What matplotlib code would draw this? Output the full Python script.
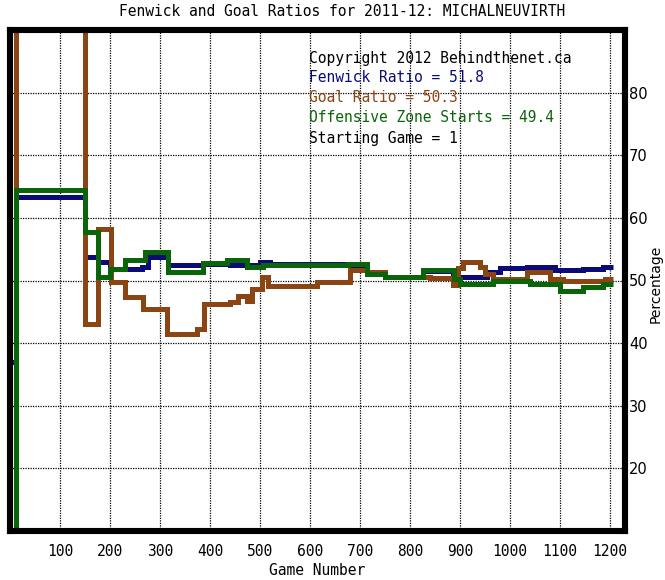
import matplotlib
matplotlib.use("Agg")
import matplotlib.pyplot as plt

# ---- data (game number, value) step points ----
fen_games = [0, 12, 150, 176, 200, 264, 276, 316, 386, 440, 456, 500, 520, 680, 713, 750, 826, 886, 900, 954, 980, 1034, 1090, 1146, 1186, 1206]
fen_vals  = [37, 63.4, 53.7, 52.9, 51.8, 52.2, 53.8, 52.4, 52.6, 52.5, 52.4, 52.9, 52.6, 52.3, 51.0, 50.6, 51.5, 50.3, 50.6, 51.4, 52.0, 52.1, 51.6, 51.9, 52.2, 52.2]

goal_games = [0, 12, 150, 176, 201, 230, 266, 313, 373, 388, 440, 456, 473, 483, 503, 516, 613, 680, 713, 750, 840, 885, 895, 906, 940, 950, 966, 1034, 1080, 1106, 1190, 1206]
goal_vals  = [0, 100, 43.0, 58.3, 49.8, 47.3, 45.5, 41.4, 42.3, 46.2, 46.5, 47.5, 46.7, 48.7, 50.6, 49.1, 49.8, 51.7, 51.4, 50.6, 50.4, 49.3, 52.0, 53.0, 52.2, 51.0, 50.3, 51.4, 50.3, 50.0, 50.2, 50.2]

ozs_games = [0, 12, 150, 176, 200, 230, 270, 316, 386, 434, 474, 506, 676, 713, 750, 826, 888, 900, 966, 1040, 1100, 1146, 1186, 1206]
ozs_vals  = [0, 64.5, 57.8, 50.5, 51.9, 53.3, 54.5, 51.4, 52.8, 53.2, 52.2, 52.5, 52.7, 51.1, 50.6, 51.6, 50.3, 49.5, 50.0, 49.4, 48.4, 49.0, 49.5, 49.5]

x_ticks = [100, 200, 300, 400, 500, 600, 700, 800, 900, 1000, 1100, 1200]
y_ticks = [20, 30, 40, 50, 60, 70, 80]

title = "Fenwick and Goal Ratios for 2011-12: MICHALNEUVIRTH"
info_lines = [
    ("Copyright 2012 Behindthenet.ca", "black"),
    ("Fenwick Ratio = 51.8", "#0b0b78"),
    ("Goal Ratio = 50.3", "#8b4513"),
    ("Offensive Zone Starts = 49.4", "#0a640a"),
    ("Starting Game = 1", "black"),
]

FONT = "DejaVu Sans Mono"
FS = 10.5

fig = plt.figure(figsize=(6.65, 5.8), dpi=100)
ax = fig.add_axes([10 / 665, 49 / 580, 615 / 665, 501 / 580])
ax.set_xlim(0, 1230)
ax.set_ylim(10, 90)

lw = 3.6
ax.plot(fen_games, fen_vals, drawstyle="steps-post", color="#0b0b78", lw=lw, zorder=2,
        solid_joinstyle="miter", solid_capstyle="butt")
ax.plot(goal_games, goal_vals, drawstyle="steps-post", color="#8b4513", lw=lw, zorder=3,
        solid_joinstyle="miter", solid_capstyle="butt")
ax.plot(ozs_games, ozs_vals, drawstyle="steps-post", color="#0a640a", lw=lw, zorder=4,
        solid_joinstyle="miter", solid_capstyle="butt")

ax.set_xticks(x_ticks)
ax.set_yticks(y_ticks)
ax.set_xticklabels([str(t) for t in x_ticks], family=FONT, fontsize=FS)
ax.set_yticklabels([str(t) for t in y_ticks], family="DejaVu Sans", fontsize=FS)
ax.yaxis.tick_right()
ax.tick_params(axis="both", length=0)
ax.tick_params(axis="x", pad=9)
ax.tick_params(axis="y", pad=3)
ax.grid(True, color="black", linestyle=(0, (1, 1)), linewidth=0.9, zorder=1)
ax.set_axisbelow(True)
for s in ax.spines.values():
    s.set_linewidth(4.4)
    s.set_color("black")
    s.set_zorder(6)

ax.set_xlabel("Game Number", family=FONT, fontsize=FS, labelpad=3)
fig.text(656 / 665, 1 - 284 / 580, "Percentage", rotation=90, ha="center", va="center",
         family="DejaVu Sans", fontsize=10)

fig.text(342 / 665, 1 - 12 / 580, title, ha="center", va="center", family=FONT, fontsize=FS)
for i, (txt, col) in enumerate(info_lines):
    fig.text(309 / 665, 1 - (58 + 20 * i) / 580, txt, ha="left", va="center",
             family=FONT, fontsize=FS, color=col, zorder=10)

fig.savefig("out.png", dpi=100)
